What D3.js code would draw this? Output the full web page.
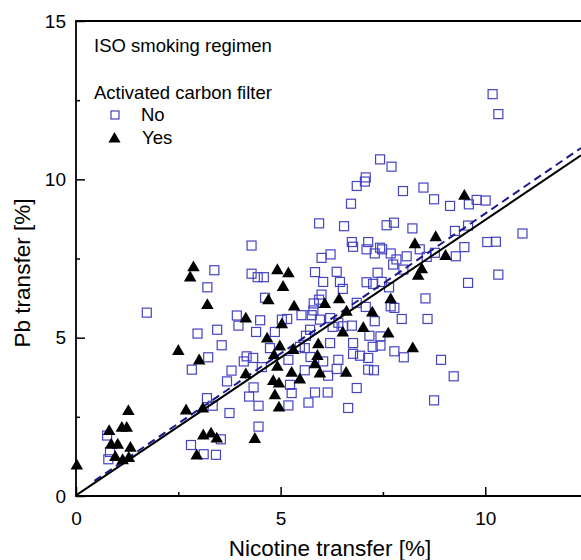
<!DOCTYPE html>
<html>
<head>
<meta charset="utf-8">
<script src="https://cdn.jsdelivr.net/npm/d3@7"></script>
<style>
  body { margin: 0; background: #fff; }
  svg { display: block; font-family: "Liberation Sans", Arial, sans-serif; }
</style>
</head>
<body>
<div id="chart"></div>
<script>

// nicotine transfer [%], Pb transfer [%] -- no activated carbon filter
var noFilter = [
  [1.73,5.79],[2.97,5.13],[2.83,3.99],[0.76,1.91],[0.83,1.39],[0.79,1.16],[2.81,1.61],
  [3.20,3.09],[3.34,2.85],[3.75,2.62],[3.54,1.79],[3.12,1.32],[3.42,1.30],[4.46,2.19],
  [4.46,2.85],[4.23,3.14],[4.34,3.43],[3.69,3.62],[3.80,3.96],
  [4.29,7.91],[6.74,8.02],[6.77,7.87],[7.14,8.02],[7.10,7.79],[7.43,7.84],[7.48,7.79],
  [7.30,7.66],[7.69,7.66],[8.08,7.57],[7.83,7.47],[6.00,7.52],[6.22,7.63],[3.38,7.13],
  [4.29,7.02],[4.59,6.91],[4.44,6.91],[5.84,7.07],[6.04,6.76],[6.37,7.08],[6.45,6.76],
  [6.52,6.54],[7.10,6.75],[7.26,6.70],[7.37,7.05],[7.47,6.76],[7.75,7.31],[8.00,7.15],
  [7.65,6.59],[3.21,6.59],[4.62,6.26],[6.00,6.36],[5.94,6.20],[5.81,6.08],[5.80,5.86],
  [6.86,6.10],[7.08,5.97],[7.69,5.99],[7.78,5.94],[7.96,5.59],[3.93,5.70],[3.97,5.38],
  [4.50,5.55],[5.03,5.57],[5.16,5.59],[4.40,5.18],[4.86,5.18],[5.51,5.71],[5.76,5.71],
  [5.72,5.25],[5.62,5.06],[5.96,5.57],[6.21,5.62],[6.27,5.34],[6.41,5.47],[6.53,5.36],
  [6.74,5.38],[7.17,5.06],[7.30,5.52],[7.44,5.04],[3.45,5.25],[3.56,4.76],[3.23,4.38],
  [4.74,4.67],[5.47,4.71],[5.59,4.67],[5.73,4.39],[6.04,4.25],[6.21,4.83],[6.41,4.30],
  [6.37,4.01],[6.16,3.80],[6.77,4.83],[6.77,4.49],[6.94,4.43],[7.14,4.36],[7.25,4.71],
  [7.44,4.75],[7.78,4.57],[8.01,4.38],[7.14,3.99],[7.28,3.97],[6.86,3.41],[6.65,2.78],
  [5.84,3.27],[6.15,3.27],[5.68,2.95],[4.17,4.41],[4.33,4.36],[4.10,4.25],[4.54,4.07],
  [5.19,4.30],[5.59,3.97],[5.27,3.25],[5.19,2.86],[5.23,3.51],
  [7.43,10.63],[7.71,10.40],[7.08,10.06],[7.06,9.93],[6.86,9.79],[7.99,9.63],[6.72,9.23],
  [5.94,8.61],[6.55,8.52],[7.59,8.55],[7.77,8.63],[8.22,8.45],
  [10.18,12.69],[10.32,12.06],[8.49,9.74],[8.75,9.37],[9.14,9.16],[9.79,9.35],[10.01,9.33],
  [9.60,9.21],[9.26,8.37],[9.58,8.54],[10.91,8.29],[9.49,7.86],[8.57,7.55],[8.77,7.68],
  [9.28,7.57],[10.05,8.02],[10.26,8.03],[10.32,6.99],[9.58,6.73],[8.54,6.24],[8.59,5.59],
  [8.92,4.30],[9.23,3.78],[8.75,3.02],[8.40,7.79]
];

// with activated carbon filter
var withFilter = [
  [2.87,7.21],[2.79,6.89],[2.50,4.57],[3.01,4.27],[0.02,0.95],[0.81,2.04],[1.12,2.14],
  [1.24,2.14],[1.28,2.67],[0.86,1.61],[1.02,1.61],[1.33,1.51],[0.96,1.22],[1.14,1.12],
  [1.29,1.19],[2.69,2.69],[2.95,1.27],
  [3.10,2.75],[3.11,1.90],[3.30,1.96],[3.44,1.80],[4.37,1.79],[4.15,3.83],
  [8.28,7.94],[4.92,7.12],[5.19,7.02],[5.06,6.59],[8.36,6.94],[3.21,6.02],[4.70,6.17],
  [6.08,6.05],[6.43,6.20],[5.33,5.97],[6.61,5.81],[7.24,5.78],[7.69,6.20],[4.15,5.59],
  [5.03,5.41],[6.52,5.15],[7.02,5.29],[7.63,5.12],[4.67,4.96],[4.98,4.71],[5.31,4.60],
  [5.92,4.78],[5.90,4.41],[5.84,4.15],[5.96,3.86],[6.60,3.88],[8.23,4.65],[4.84,4.43],
  [4.92,4.07],[5.27,3.88],[5.47,3.67],[4.82,3.62],[4.96,3.54],[4.86,3.17],[4.96,2.78],
  [9.49,9.47],[8.79,8.16],[9.03,7.57],[8.45,7.15]
];

// linear fits: all cigarettes (solid) and without filter (dashed)
var fitAll = { intercept: 0.02, slope: 0.87, from: 0 };
var fitNo = { intercept: 0.08, slope: 0.884, from: 0.45 };

var xMajor = [0, 5, 10],
    xMinor = [2.5, 7.5],
    yMajor = [0, 5, 10, 15],
    yMinor = [2.5, 7.5, 12.5];

var legendTitle = "ISO smoking regimen",
    legendHeading = "Activated carbon filter",
    legendLabels = ["No", "Yes"];

var width = 581,
    height = 560,
    margin = {top: 21, right: 0, bottom: 64, left: 76};

var blue = "#4444c4",
    navy = "#1a1a8e";

var svg = d3.select("#chart").append("svg")
    .attr("width", width)
    .attr("height", height);

var xScale = d3.scaleLinear().domain([0, 12.34]).range([margin.left, width - margin.right]);
var yScale = d3.scaleLinear().domain([0, 15]).range([height - margin.bottom, margin.top]);

var x0 = xScale(0), y0 = yScale(0);

// axes, ticks pointing inwards
var gx = svg.append("g").attr("transform", "translate(0," + y0 + ")");
gx.call(d3.axisBottom(xScale).tickValues(xMajor).tickSize(-9).tickPadding(16).tickFormat(d3.format("d")));
var gxm = svg.append("g").attr("transform", "translate(0," + y0 + ")");
gxm.call(d3.axisBottom(xScale).tickValues(xMinor).tickSize(-4).tickFormat(""));

var gy = svg.append("g").attr("transform", "translate(" + x0 + ",0)");
gy.call(d3.axisLeft(yScale).tickValues(yMajor).tickSize(-9).tickPadding(10).tickFormat(d3.format("d")));
var gym = svg.append("g").attr("transform", "translate(" + x0 + ",0)");
gym.call(d3.axisLeft(yScale).tickValues(yMinor).tickSize(-4).tickFormat(""));

svg.selectAll(".domain").remove();
svg.selectAll(".tick line").attr("stroke", "#000").attr("stroke-width", 1.5);
svg.selectAll(".tick text")
    .attr("fill", "#000")
    .style("font-size", "19px")
    .style("font-family", "Liberation Sans, Arial, sans-serif");

// frame: bottom, left and top lines
svg.append("path")
    .attr("d", "M" + xScale.range()[1] + "," + yScale(15) + "H" + x0 + "V" + y0 + "H" + xScale.range()[1])
    .attr("fill", "none")
    .attr("stroke", "#000")
    .attr("stroke-width", 1.8);

// points: no filter
svg.append("g").selectAll("rect")
    .data(noFilter)
  .enter().append("rect")
    .attr("x", function(d) { return xScale(d[0]) - 4.5; })
    .attr("y", function(d) { return yScale(d[1]) - 4.5; })
    .attr("width", 9)
    .attr("height", 9)
    .attr("fill", "none")
    .attr("stroke", blue)
    .attr("stroke-width", 1.2);

// fit lines
function fitLine(f) {
  var xs = [f.from, xScale.domain()[1]];
  return xs.map(function(x) { return [xScale(x), yScale(f.intercept + f.slope * x)]; });
}

svg.append("path")
    .attr("d", d3.line()(fitLine(fitNo)))
    .attr("fill", "none")
    .attr("stroke", navy)
    .attr("stroke-width", 2)
    .attr("stroke-dasharray", "8,5");

svg.append("path")
    .attr("d", d3.line()(fitLine(fitAll)))
    .attr("fill", "none")
    .attr("stroke", "#000")
    .attr("stroke-width", 2);

// points: with filter
var tri = d3.symbol().type(d3.symbolTriangle).size(68);
svg.append("g").selectAll("path")
    .data(withFilter)
  .enter().append("path")
    .attr("d", tri)
    .attr("transform", function(d) { return "translate(" + xScale(d[0]) + "," + yScale(d[1]) + ")"; })
    .attr("fill", "#000");

// axis titles
svg.append("text")
    .attr("x", 330)
    .attr("y", 556)
    .attr("text-anchor", "middle")
    .style("font-size", "22.5px")
    .text("Nicotine transfer [%]");

svg.append("text")
    .attr("transform", "translate(30,273) rotate(-90)")
    .attr("text-anchor", "middle")
    .style("font-size", "22.5px")
    .text("Pb transfer [%]");

// legend
var lg = svg.append("g").style("font-size", "18.5px");
lg.append("text").attr("x", 94).attr("y", 52).text(legendTitle);
lg.append("text").attr("x", 94).attr("y", 99).text(legendHeading);
lg.append("rect")
    .attr("x", 111).attr("y", 111).attr("width", 8).attr("height", 8)
    .attr("fill", "none").attr("stroke", blue).attr("stroke-width", 1.2);
lg.append("text").attr("x", 141).attr("y", 121).text(legendLabels[0]);
lg.append("path")
    .attr("d", d3.symbol().type(d3.symbolTriangle).size(64)())
    .attr("transform", "translate(114.5,139)")
    .attr("fill", "#000");
lg.append("text").attr("x", 142).attr("y", 144).text(legendLabels[1]);

</script>
</body>
</html>
